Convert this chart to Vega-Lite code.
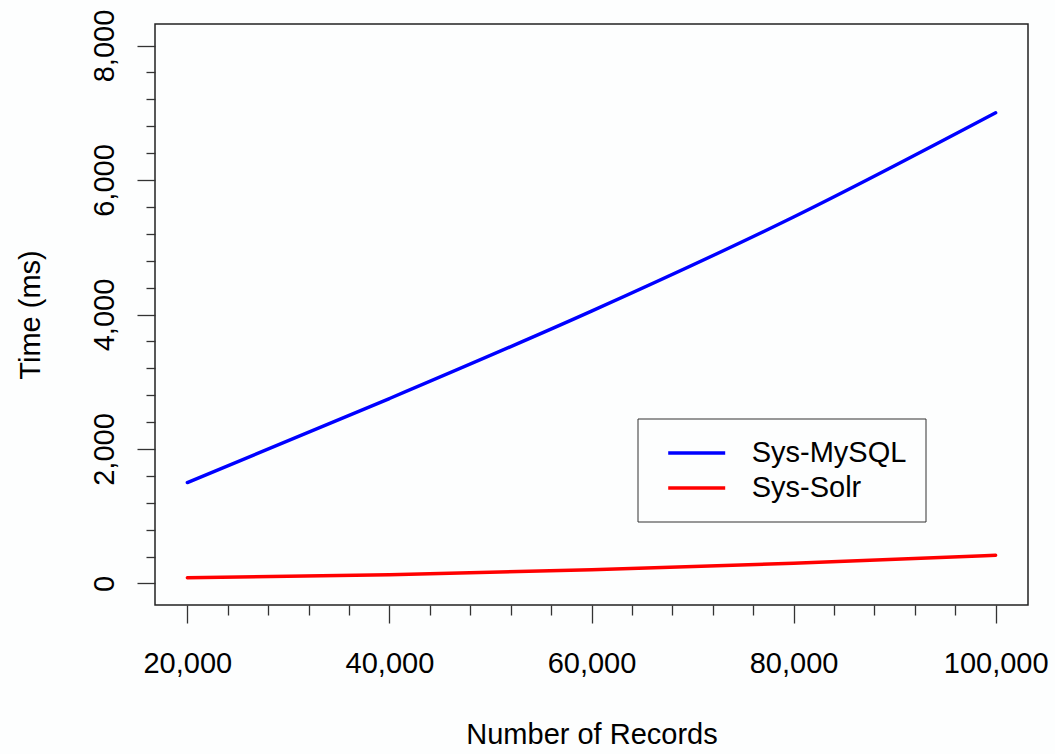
{
  "$schema": "https://vega.github.io/schema/vega-lite/v6.json",
  "autosize": "none",
  "width": 873,
  "height": 581,
  "padding": {"left": 155, "top": 24, "right": 27, "bottom": 149},
  "background": "#fdfefe",
  "view": {"stroke": "#222", "strokeWidth": 1.5, "fill": "#fdfefe"},
  "config": {
    "font": "Liberation Sans",
    "axis": {"grid": false, "domain": false, "labelFont": "Liberation Sans", "titleFont": "Liberation Sans", "labelColor": "#000", "titleColor": "#000", "titleFontWeight": "normal"},
    "legend": {"labelFont": "Liberation Sans"}
  },
  "data": {
    "values": [
      {"records": 20000, "time": 1500, "system": "Sys-MySQL"},
      {"records": 40000, "time": 2750, "system": "Sys-MySQL"},
      {"records": 60000, "time": 4050, "system": "Sys-MySQL"},
      {"records": 80000, "time": 5450, "system": "Sys-MySQL"},
      {"records": 100000, "time": 7000, "system": "Sys-MySQL"},
      {"records": 20000, "time": 85, "system": "Sys-Solr"},
      {"records": 40000, "time": 130, "system": "Sys-Solr"},
      {"records": 60000, "time": 205, "system": "Sys-Solr"},
      {"records": 80000, "time": 300, "system": "Sys-Solr"},
      {"records": 100000, "time": 420, "system": "Sys-Solr"}
    ]
  },
  "mark": {"type": "line", "strokeWidth": 3.4, "strokeCap": "round", "strokeJoin": "round", "interpolate": "monotone"},
  "encoding": {
    "x": {
      "field": "records",
      "type": "quantitative",
      "scale": {"domain": [16800, 103200], "nice": false, "zero": false},
      "axis": {
        "title": "Number of Records",
        "values": [20000, 24000, 28000, 32000, 36000, 40000, 44000, 48000, 52000, 56000, 60000, 64000, 68000, 72000, 76000, 80000, 84000, 88000, 92000, 96000, 100000],
        "labelExpr": "datum.value % 20000 === 0 ? format(datum.value, ',') : ''",
        "labelOverlap": false,
        "labelFlush": false,
        "tickSize": 18,
        "tickColor": "#333",
        "tickWidth": 1.3,
        "tickDash": {"condition": {"test": "datum.value % 20000 !== 0", "value": [10, 40]}, "value": []},
        "labelFontSize": 29,
        "labelBaseline": "top",
        "labelPadding": 26,
        "titleFontSize": 29,
        "titleBaseline": "alphabetic",
        "titleAnchor": "middle",
        "titleAlign": "center",
        "titleX": 436.5,
        "titleY": 138.3
      }
    },
    "y": {
      "field": "time",
      "type": "quantitative",
      "scale": {"domain": [-320, 8320], "nice": false, "zero": false},
      "axis": {
        "title": "Time (ms)",
        "values": [0, 400, 800, 1200, 1600, 2000, 2400, 2800, 3200, 3600, 4000, 4400, 4800, 5200, 5600, 6000, 6400, 6800, 7200, 7600, 8000],
        "labelExpr": "datum.value % 2000 === 0 ? format(datum.value, ',') : ''",
        "labelOverlap": false,
        "labelFlush": false,
        "tickSize": 18,
        "tickColor": "#333",
        "tickWidth": 1.3,
        "tickDash": {"condition": {"test": "datum.value % 2000 !== 0", "value": [9, 40]}, "value": []},
        "labelFontSize": 29,
        "labelAngle": 270,
        "labelAlign": "center",
        "labelBaseline": "alphabetic",
        "labelPadding": 24,
        "titleFontSize": 29,
        "titleAngle": 270,
        "titleBaseline": "alphabetic",
        "titleAlign": "center",
        "titleAnchor": "middle",
        "titleX": -116,
        "titleY": 290.5
      }
    },
    "color": {
      "field": "system",
      "type": "nominal",
      "scale": {"domain": ["Sys-MySQL", "Sys-Solr"], "range": ["#0000ff", "#ff0000"]},
      "legend": {
        "title": null,
        "orient": "none",
        "legendX": 482.5,
        "legendY": 394.5,
        "symbolType": "M-2,0H2",
        "symbolSize": 812,
        "symbolStrokeWidth": 3.4,
        "symbolOffset": 24.7,
        "labelFontSize": 29,
        "labelColor": "#000",
        "labelOffset": 39,
        "padding": 18.5,
        "rowPadding": 4,
        "fillColor": "#fdfefe",
        "strokeColor": "#333"
      }
    }
  }
}
